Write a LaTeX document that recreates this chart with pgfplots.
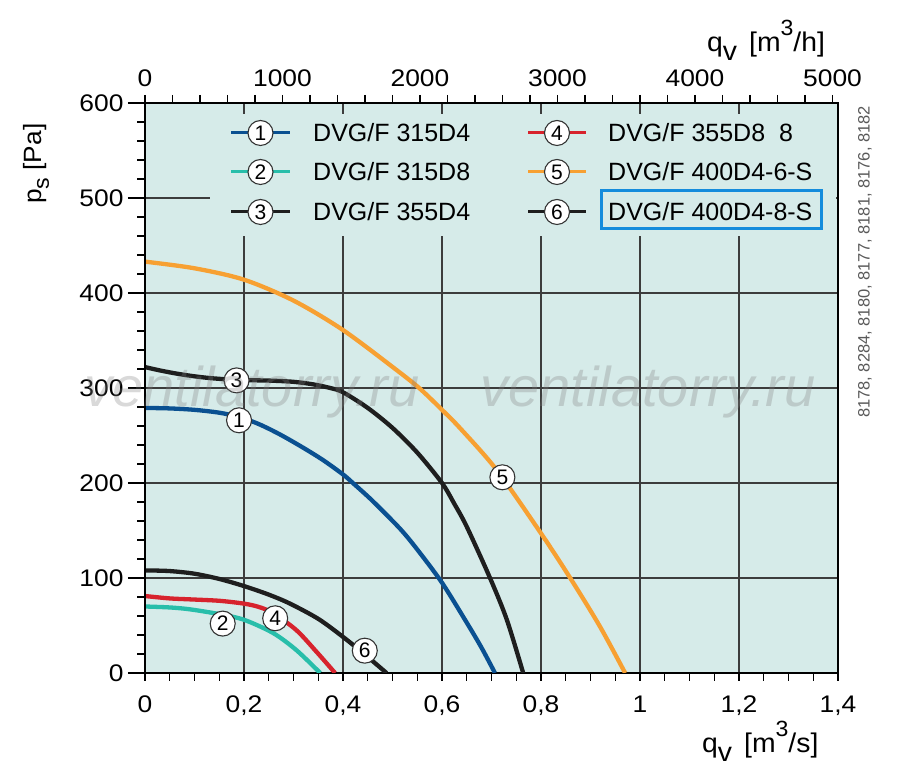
\documentclass[border=0pt]{standalone}
\usepackage{fontspec}
\setmainfont{Liberation Sans}
\newfontfamily\widefont[FakeStretch=1.1]{Liberation Sans}
\newfontfamily\titlefont[FakeStretch=1.05]{Liberation Sans}
\usepackage{pgfplots}
\pgfplotsset{compat=1.18}
\definecolor{bg}{RGB}{214,235,233}
\definecolor{c1}{RGB}{10,80,145}
\definecolor{c2}{RGB}{40,190,170}
\definecolor{c3}{RGB}{30,30,30}
\definecolor{c4}{RGB}{215,35,45}
\definecolor{c5}{RGB}{247,160,50}
\definecolor{gridc}{RGB}{60,60,60}
\definecolor{boxblue}{RGB}{20,140,220}
\tikzset{lab/.style={circle, draw=black!80, line width=1.1pt, fill=white, inner sep=0pt, minimum size=25pt, font=\fontsize{21}{21}\selectfont}}
\newcommand{\tfont}{\widefont\fontsize{24}{24}\selectfont}
\newcommand{\lfont}{\fontsize{25}{25}\selectfont}
\begin{document}
\begin{tikzpicture}[x=1pt,y=1pt]
\useasboundingbox (0,0) rectangle (900,781);
\begin{axis}[at={(145pt,108pt)}, anchor=south west, scale only axis, width=693pt, height=570pt,
  xmin=0, xmax=1.4, ymin=0, ymax=600,
  axis background/.style={fill=bg},
  xtick={0,0.2,0.4,0.6,0.8,1.0,1.2,1.4}, ytick={0,100,200,300,400,500,600},
  minor x tick num=3, minor y tick num=4,
  xtick pos=lower, ytick pos=left, tick align=outside,
  major tick length=8pt, minor tick length=8pt,
  grid=major, major grid style={gridc, line width=1.2pt},
  axis line style={black, line width=1.6pt},
  every tick/.style={black, line width=1.2pt},
  every minor tick/.style={black, line width=1.1pt},
  tick label style={font=\tfont},
  xticklabel style={yshift=-11pt},
  yticklabel style={xshift=-10pt},
  /pgf/number format/use comma,
  /pgf/number format/assume math mode=true,
]
\addplot[c5, line width=4.3pt, smooth] coordinates {
(0,433) (0.1,426) (0.2,414) (0.3,392) (0.4,361) (0.508,319) (0.556,299) (0.6,277) (0.636,258) (0.71,214) (0.8,147) (0.859,100) (0.919,49) (0.97,0)};
\addplot[c3, line width=4.3pt, smooth] coordinates {
(0,322) (0.03,318.5) (0.06,315.5) (0.09,313) (0.13,310.5) (0.185,308.5) (0.25,307.8) (0.3,306.5) (0.34,303.8) (0.374,300) (0.4,295.5) (0.45,279) (0.5,258) (0.55,232) (0.6,200) (0.625,178) (0.65,154) (0.697,100) (0.731,56) (0.764,0)};
\addplot[c1, line width=4.3pt, smooth] coordinates {
(0,279) (0.05,278.5) (0.1,277) (0.15,274) (0.19,269.5) (0.23,262) (0.273,251) (0.32,237) (0.36,224) (0.4,209) (0.421,199.5) (0.46,181) (0.515,152) (0.55,130) (0.6,95) (0.65,53) (0.68,26.5) (0.707,0)};
\addplot[c3, line width=4.3pt, smooth] coordinates {
(0,108) (0.05,107.3) (0.1,104.5) (0.15,99) (0.2,91.5) (0.25,82.5) (0.293,73) (0.35,57) (0.4,38) (0.444,19.5) (0.488,0)};
\addplot[c4, line width=4.3pt, smooth] coordinates {
(0,81) (0.05,78.5) (0.091,77.5) (0.15,76) (0.2,73) (0.23,69.5) (0.259,63) (0.306,45) (0.347,22) (0.384,0)};
\addplot[c2, line width=4.3pt, smooth] coordinates {
(0,70) (0.05,69) (0.091,67) (0.15,62) (0.2,56) (0.259,42) (0.306,24) (0.354,0)};
\node[lab] at (axis cs:0.19,266) {1};
\node[lab] at (axis cs:0.157,52) {2};
\node[lab] at (axis cs:0.185,308) {3};
\node[lab] at (axis cs:0.263,57.6) {4};
\node[lab] at (axis cs:0.722,206) {5};
\node[lab] at (axis cs:0.444,23.5) {6};
\end{axis}
% left major ticks (longer)
\begin{axis}[at={(145pt,108pt)}, anchor=south west, scale only axis, width=693pt, height=570pt,
  xmin=0, xmax=1.4, ymin=0, ymax=600,
  axis y line*=left, axis x line=none,
  ytick={0,100,200,300,400,500,600}, yticklabels={},
  tick align=outside, major tick length=17pt,
  axis line style={black, line width=1.6pt},
  every tick/.style={black, line width=1.2pt},
]
\end{axis}
% top axis m3/h
\begin{axis}[at={(145pt,108pt)}, anchor=south west, scale only axis, width=693pt, height=570pt,
  xmin=0, xmax=5040, ymin=0, ymax=600,
  axis x line*=top, axis y line=none,
  xtick={0,1000,2000,3000,4000,5000}, minor x tick num=4,
  tick align=outside, major tick length=8pt, minor tick length=8pt,
  axis line style={black, line width=1.6pt},
  every tick/.style={black, line width=1.2pt},
  every minor tick/.style={black, line width=1.1pt},
  tick label style={font=\tfont},
  xticklabel style={yshift=5pt},
  /pgf/number format/1000 sep={},
  /pgf/number format/assume math mode=true,
]
\end{axis}
% legend
\fill[bg] (210,545) rectangle (836,667);
\foreach \y/\c/\n/\t in {648/c1/1/{DVG/F 315D4}, 609/c2/2/{DVG/F 315D8}, 569/c3/3/{DVG/F 355D4}} {
  \draw[\c, line width=3pt] (231,\y) -- (290,\y);
  \node[lab] at (260.5,\y) {\n};
  \node[anchor=west, inner sep=0pt, font=\lfont] at (313,\y) {\t};
}
\foreach \y/\c/\n/\t in {648/c4/4/{DVG/F 355D8\ \ 8}, 609/c5/5/{DVG/F 400D4-6-S}, 569/c3/6/{DVG/F 400D4-8-S}} {
  \draw[\c, line width=3pt] (528,\y) -- (586,\y);
  \node[lab] at (557,\y) {\n};
  \node[anchor=west, inner sep=0pt, font=\lfont] at (608,\y) {\t};
}
\draw[boxblue, line width=3pt] (601,552) rectangle (821,590);
% watermark
\node[anchor=base, font=\fontsize{56}{56}\selectfont\itshape, text=gray, opacity=0.3] at (252,374) {ventilatorry.ru};
\node[anchor=base, font=\fontsize{56}{56}\selectfont\itshape, text=gray, opacity=0.3] at (648,374) {ventilatorry.ru};
% axis titles
\node[rotate=90, anchor=base west, inner sep=0pt, font=\titlefont\fontsize{25}{25}\selectfont] at (42,577) {p\raisebox{-7pt}{\fontsize{22}{22}\selectfont s} [Pa]};
\node[anchor=base west, inner sep=0pt, font=\titlefont\fontsize{27}{27}\selectfont] at (702,28) {q\raisebox{-9pt}{v}\hspace{12pt}[m\raisebox{16pt}{\fontsize{22}{22}\selectfont 3}/s]};
\node[anchor=base west, inner sep=0pt, font=\titlefont\fontsize{27}{27}\selectfont] at (707,729) {q\raisebox{-9pt}{v}\hspace{12pt}[m\raisebox{16pt}{\fontsize{22}{22}\selectfont 3}/h]};
% side text
\node[rotate=90, inner sep=0pt, text=black!65, font=\fontsize{16.5}{16.5}\selectfont] at (865,519) {8178, 8284, 8180, 8177, 8181, 8176, 8182};
\end{tikzpicture}
\end{document}
